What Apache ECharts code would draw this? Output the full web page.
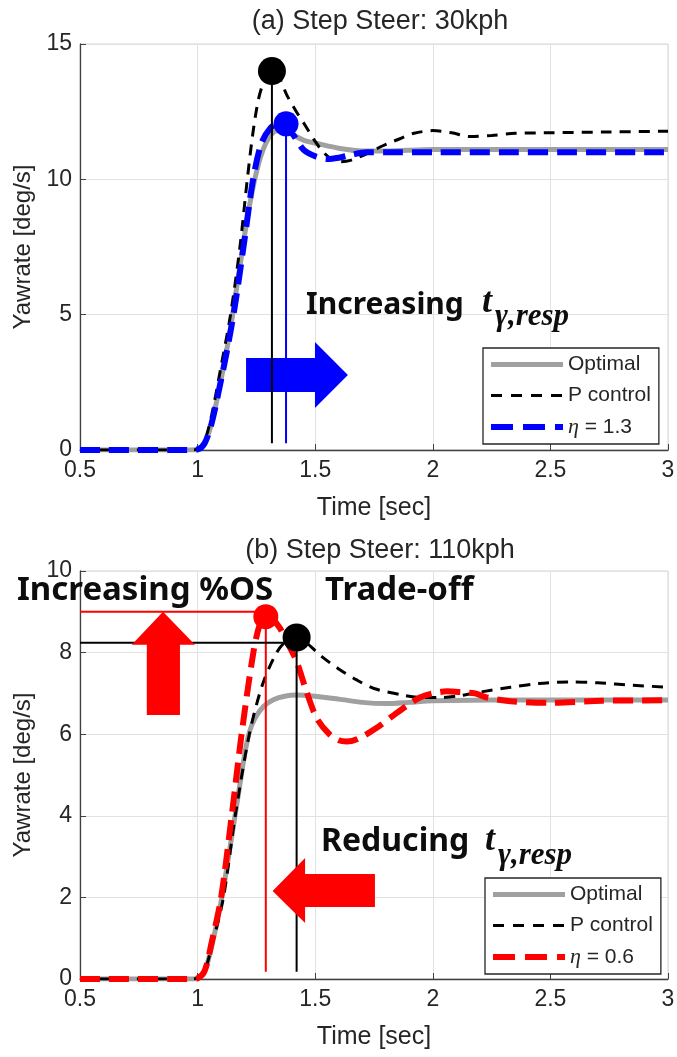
<!DOCTYPE html>
<html>
<head>
<meta charset="utf-8">
<script src="https://cdn.jsdelivr.net/npm/echarts@6/dist/echarts.min.js"></script>
<style>
html, body { margin:0; padding:0; background:#fff; }
#chart { width:677px; height:1057px; }
</style>
</head>
<body>
<div id="chart"></div>
<script>
// ---- data ----
var xTicks = [0.5, 1, 1.5, 2, 2.5, 3];

// (a) 30 kph
var aOptT = [0.5, 0.97, 1.0, 1.03, 1.06, 1.1, 1.14, 1.18, 1.22, 1.26, 1.3, 1.34, 1.38, 1.45, 1.52, 1.6, 1.7, 1.8, 2.0, 2.5, 3.0];
var aOptV = [0, 0, 0.02, 0.25, 1.0, 2.6, 4.5, 6.8, 9.0, 10.6, 11.5, 11.8, 11.75, 11.45, 11.3, 11.15, 11.05, 11.05, 11.1, 11.1, 11.1];
var aPT = [0.5, 0.97, 1.0, 1.03, 1.06, 1.1, 1.14, 1.18, 1.21, 1.235, 1.26, 1.29, 1.316, 1.345, 1.38, 1.42, 1.457, 1.5, 1.535, 1.57, 1.605, 1.65, 1.72, 1.79, 1.86, 1.92, 2.0, 2.08, 2.16, 2.25, 2.35, 2.5, 2.75, 3.0];
var aPV = [0, 0, 0.03, 0.35, 1.3, 3.1, 5.0, 7.5, 9.9, 11.7, 13.0, 13.8, 14.05, 13.8, 13.1, 12.5, 12.0, 11.4, 11.0, 10.75, 10.65, 10.7, 10.95, 11.25, 11.5, 11.7, 11.8, 11.72, 11.58, 11.62, 11.7, 11.72, 11.75, 11.78];
var aEtaT = [0.5, 0.97, 1.0, 1.03, 1.06, 1.1, 1.13, 1.16, 1.2, 1.234, 1.27, 1.31, 1.345, 1.376, 1.41, 1.45, 1.5, 1.55, 1.6, 1.65, 1.72, 1.8, 2.0, 3.0];
var aEtaV = [0, 0, 0.02, 0.25, 1.0, 2.6, 3.9, 5.4, 7.8, 9.9, 11.3, 11.9, 12.05, 12.0, 11.6, 11.1, 10.85, 10.75, 10.8, 10.9, 11.0, 11.0, 11.0, 11.0];
var aPeakT = [1.316, 1.376];
var aPeakV = [14.0, 12.05];

// (b) 110 kph
var bOptT = [0.5, 0.97, 1.0, 1.03, 1.06, 1.1, 1.14, 1.17, 1.2, 1.22, 1.245, 1.28, 1.32, 1.37, 1.42, 1.5, 1.6, 1.7, 1.8, 1.9, 2.0, 2.5, 3.0];
var bOptV = [0, 0, 0.02, 0.2, 0.8, 1.9, 3.3, 4.4, 5.5, 6.05, 6.4, 6.68, 6.84, 6.93, 6.96, 6.93, 6.86, 6.78, 6.75, 6.78, 6.82, 6.84, 6.84];
var bPT = [0.5, 0.97, 1.0, 1.03, 1.06, 1.11, 1.16, 1.22, 1.275, 1.336, 1.38, 1.421, 1.46, 1.5, 1.535, 1.6, 1.676, 1.75, 1.87, 1.95, 2.04, 2.12, 2.2, 2.33, 2.45, 2.58, 2.7, 2.85, 3.0];
var bPV = [0, 0, 0.02, 0.2, 0.8, 2.0, 4.0, 6.0, 7.2, 8.0, 8.3, 8.37, 8.25, 8.05, 7.87, 7.6, 7.33, 7.12, 6.96, 6.9, 6.9, 6.95, 7.03, 7.15, 7.24, 7.28, 7.26, 7.2, 7.15];
var bEtaT = [0.5, 0.97, 1.0, 1.03, 1.06, 1.1, 1.145, 1.187, 1.237, 1.265, 1.29, 1.315, 1.35, 1.39, 1.42, 1.46, 1.506, 1.56, 1.6, 1.634, 1.68, 1.76, 1.83, 1.89, 1.945, 2.0, 2.06, 2.12, 2.18, 2.23, 2.33, 2.5, 2.72, 3.0];
var bEtaV = [0, 0, 0.02, 0.2, 0.9, 2.0, 4.0, 6.0, 8.0, 8.7, 8.9, 8.85, 8.6, 8.15, 7.8, 7.1, 6.4, 6.0, 5.85, 5.82, 5.88, 6.15, 6.45, 6.7, 6.9, 7.0, 7.05, 7.03, 7.0, 6.9, 6.81, 6.77, 6.82, 6.83];
var bPeakT = [1.29, 1.421];
var bPeakV = [8.88, 8.37];
var bPeakLevel = [9.0, 8.24];

var F = '"Liberation Sans", Arial, sans-serif';
var TXT = '#262626';

function pairs(t, v){
	var out = [];
	for(var i = 0; i < t.length; i++){
		out.push([t[i], v[i]]);
	}
	return out;
}

function xAxisCfg(g){
	return {
		type:'value', gridIndex:g, min:xTicks[0], max:xTicks[xTicks.length-1], interval:0.5,
		name:'Time [sec]', nameLocation:'middle', nameGap:46,
		nameTextStyle:{fontSize:25, color:TXT, fontFamily:F},
		axisLine:{show:true, onZero:false, lineStyle:{color:'#404040', width:1.3}},
		axisTick:{show:true, inside:true, length:6, lineStyle:{color:'#404040'}},
		axisLabel:{fontSize:23, color:TXT, margin:9, fontFamily:F},
		splitLine:{show:true, lineStyle:{color:'#e2e2e2', width:1}}
	};
}
function yAxisCfg(g, max, step){
	return {
		type:'value', gridIndex:g, min:0, max:max, interval:step,
		name:'Yawrate [deg/s]', nameLocation:'middle', nameGap:45, nameRotate:90,
		nameTextStyle:{fontSize:24, color:TXT, fontFamily:F},
		axisLine:{show:true, onZero:false, lineStyle:{color:'#404040', width:1.3}},
		axisTick:{show:true, inside:true, length:6, lineStyle:{color:'#404040'}},
		axisLabel:{fontSize:23, color:TXT, margin:8, fontFamily:F},
		splitLine:{show:true, lineStyle:{color:'#e2e2e2', width:1}}
	};
}

function curve(name, g, t, v, color, width, dash, z){
	return {
		name:name, type:'line', xAxisIndex:g, yAxisIndex:g, data:pairs(t, v),
		symbol:'none', smooth:0.3, z:z,
		lineStyle:{color:color, width:width, type:dash},
		itemStyle:{color:color}, silent:true
	};
}
function seg(g, a, b, color){
	return {
		name:'_seg', type:'line', xAxisIndex:g, yAxisIndex:g, data:[a, b],
		symbol:'none', z:5, lineStyle:{color:color, width:2}, silent:true
	};
}

var series = [
	curve('Optimal', 0, aOptT, aOptV, '#a0a0a0', 5, 'solid', 2),
	curve('P control', 0, aPT, aPV, '#000000', 3, [11, 8], 3),
	curve('η = 1.3', 0, aEtaT, aEtaV, '#0000ff', 6, [20, 9], 4),
	curve('Optimal', 1, bOptT, bOptV, '#a0a0a0', 5, 'solid', 2),
	curve('P control', 1, bPT, bPV, '#000000', 3, [11, 8], 3),
	curve('η = 0.6', 1, bEtaT, bEtaV, '#ff0000', 6, [20, 9], 4),
	seg(0, [aPeakT[0], 0.25], [aPeakT[0], aPeakV[0]], '#000000'),
	seg(0, [aPeakT[1], 0.25], [aPeakT[1], aPeakV[1]], '#0000ff'),
	seg(1, [bPeakT[0], 0.18], [bPeakT[0], bPeakV[0]], '#ff0000'),
	seg(1, [bPeakT[1], 0.18], [bPeakT[1], bPeakV[1]], '#000000'),
	seg(1, [0.5, bPeakLevel[0]], [bPeakT[0], bPeakLevel[0]], '#ff0000'),
	seg(1, [0.5, bPeakLevel[1]], [bPeakT[1], bPeakLevel[1]], '#000000'),
	{
		name:'_peakA', type:'scatter', xAxisIndex:0, yAxisIndex:0, z:6, silent:true,
		data:[
			{value:[aPeakT[0], aPeakV[0]], symbolSize:28, itemStyle:{color:'#000000', opacity:1}},
			{value:[aPeakT[1], aPeakV[1]], symbolSize:25, itemStyle:{color:'#0000ff', opacity:1}}
		]
	},
	{
		name:'_peakB', type:'scatter', xAxisIndex:1, yAxisIndex:1, z:6, silent:true,
		data:[
			{value:[bPeakT[0], bPeakV[0]], symbolSize:25, itemStyle:{color:'#ff0000', opacity:1}},
			{value:[bPeakT[1], bPeakV[1]], symbolSize:28, itemStyle:{color:'#000000', opacity:1}}
		]
	}
];

function legendCfg(left, top, etaName, etaColor){
	return {
		data:[
			{name:'Optimal', itemStyle:{opacity:0}, lineStyle:{color:'#a0a0a0', width:5, type:'solid'}},
			{name:'P control', itemStyle:{opacity:0}, lineStyle:{color:'#000000', width:3, type:[11, 9]}},
			{name:etaName, itemStyle:{opacity:0}, lineStyle:{color:etaColor, width:6, type:[22, 10]}}
		],
		orient:'vertical', left:left, top:top,
		itemWidth:72, itemHeight:14, itemGap:10,
		padding:[6, 8, 6, 5],
		backgroundColor:'#ffffff', borderColor:'#262626', borderWidth:1.3, borderRadius:0,
		selectedMode:false,
		textStyle:{fontSize:21, color:TXT, fontFamily:F,
			rich:{e:{fontSize:22, fontStyle:'italic', fontFamily:'"Liberation Serif", serif', color:TXT}}},
		formatter:function(name){
			if(name.charAt(0) === 'η'){ return '{e|η}' + name.slice(1); }
			return name;
		}
	};
}

var chart = echarts.init(document.getElementById('chart'));
var option = {
	animation:false,
	backgroundColor:'#ffffff',
	title:[
		{text:'(a) Step Steer: 30kph', left:375, top:3, textAlign:'center',
			textStyle:{fontSize:27, fontWeight:'normal', color:TXT, fontFamily:F}},
		{text:'(b) Step Steer: 110kph', left:375, top:532, textAlign:'center',
			textStyle:{fontSize:27, fontWeight:'normal', color:TXT, fontFamily:F}}
	],
	grid:[
		{left:80, top:44, width:588, height:406, show:true, borderColor:'#d4d4d4', borderWidth:1, outerBoundsMode:'none'},
		{left:80, top:571, width:588, height:408, show:true, borderColor:'#d4d4d4', borderWidth:1, outerBoundsMode:'none'}
	],
	xAxis:[xAxisCfg(0), xAxisCfg(1)],
	yAxis:[yAxisCfg(0, 15, 5), yAxisCfg(1, 10, 2)],
	legend:[legendCfg(483, 348, 'η = 1.3', '#0000ff'), legendCfg(485, 878, 'η = 0.6', '#ff0000')],
	series:series
};
chart.setOption(option);

// ---- annotations (arrows + bold texts) ----
function poly(g, pts, color, z){
	var p = [];
	for(var i = 0; i < pts.length; i++){
		p.push(chart.convertToPixel({gridIndex:g}, pts[i]));
	}
	return {type:'polygon', z:z, silent:true, shape:{points:p}, style:{fill:color}};
}
function label(x, y, text, size, family, weight, italic){
	return {type:'text', x:x, y:y, z:100, silent:true,
		style:{text:text, fontSize:size, fontFamily:family, fontWeight:weight,
			fontStyle:italic ? 'italic' : 'normal', fill:'#0d0d0d', align:'left', verticalAlign:'middle'}};
}
var SANS = '"Noto Sans", "Open Sans", sans-serif';
var SERIF = '"Liberation Serif", "DejaVu Serif", serif';

var graphics = [
	poly(0, [[1.206,3.40],[1.499,3.40],[1.499,3.99],[1.639,2.77],[1.499,1.55],[1.499,2.14],[1.206,2.14]], '#0000ff', 1),
	poly(1, [[0.784,6.47],[0.784,8.19],[0.720,8.19],[0.853,9.0],[0.989,8.19],[0.925,8.19],[0.925,6.47]], '#ff0000', 50),
	poly(1, [[1.754,2.574],[1.457,2.574],[1.457,2.966],[1.319,2.157],[1.457,1.373],[1.457,1.765],[1.754,1.765]], '#ff0000', 50),
	label(306, 305, 'Increasing', 30, SANS, 'bold', false),
	label(482, 303, 't', 36, SERIF, 'bold', true),
	label(495, 317, 'γ,resp', 31, SERIF, 'bold', true),
	label(17, 591, 'Increasing %OS', 33, SANS, 'bold', false),
	label(325, 591, 'Trade-off', 33, SANS, 'bold', false),
	label(321, 842, 'Reducing', 32, SANS, 'bold', false),
	label(485, 841, 't', 36, SERIF, 'bold', true),
	label(498, 856, 'γ,resp', 31, SERIF, 'bold', true)
];
chart.setOption({graphic:graphics});
</script>
</body>
</html>
